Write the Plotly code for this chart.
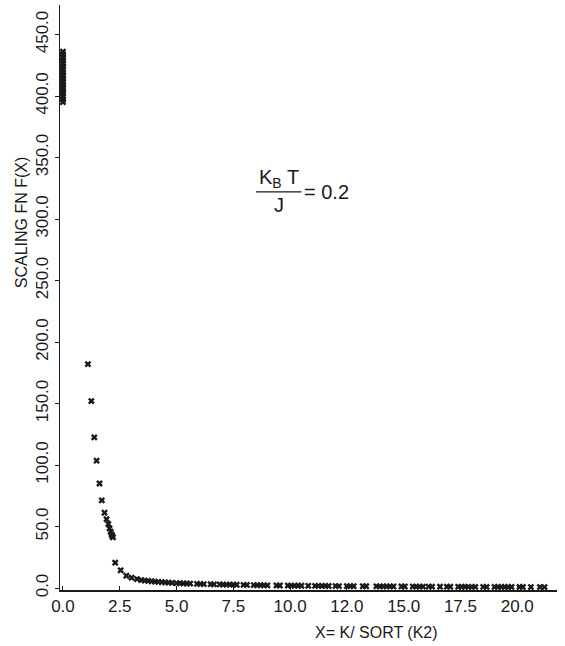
import plotly.graph_objects as go

# --- data ---
x_cluster = [0.0] * 25
y_cluster = [436, 434, 432, 431, 429, 427, 426, 424, 422, 421, 419, 417, 416,
             414, 412, 411, 409, 407, 406, 404, 402, 400, 399, 397, 395]

x_decay = [1.10, 1.25, 1.38, 1.48, 1.61, 1.71, 1.83, 1.92, 2.00, 2.05, 2.10,
           2.14, 2.17, 2.20, 2.30, 2.54, 2.79, 3.02, 3.26]
y_decay = [182, 152, 122.5, 103.5, 85, 71.3, 61.2, 56, 52, 48.5, 45.8,
           43.7, 42.3, 41.2, 20.6, 14.4, 10.0, 8.4, 7.3]

x_tail = [3.45, 3.6, 3.75, 3.9, 4.05, 4.2, 4.35, 4.5, 4.65, 4.8, 5.0, 5.15, 5.3,
          5.45, 5.6, 5.9, 6.05, 6.2, 6.5, 6.65, 6.9, 7.05, 7.2, 7.35, 7.5, 7.65,
          7.95, 8.1, 8.4, 8.55, 8.7, 8.85, 9.0, 9.4, 9.55, 9.9, 10.05, 10.2,
          10.35, 10.5, 10.8, 11.1, 11.25, 11.4, 11.55, 11.7, 12.0, 12.15, 12.5,
          12.65, 12.8, 13.2, 13.35, 13.8, 13.95, 14.1, 14.25, 14.4, 14.55, 14.9,
          15.05, 15.4, 15.55, 15.7, 15.85, 16.1, 16.25, 16.6, 16.9, 17.05, 17.4,
          17.55, 17.7, 17.85, 18.0, 18.15, 18.5, 18.65, 19.0, 19.15, 19.3, 19.45,
          19.6, 19.75, 20.1, 20.25, 20.6, 21.0, 21.2]
y_tail = [6.5, 6.1, 5.8, 5.5, 5.2, 5.0, 4.8, 4.6, 4.4, 4.2, 4.0, 3.9, 3.8,
          3.7, 3.6, 3.4, 3.3, 3.2, 3.1, 3.0, 2.9, 2.85, 2.8, 2.75, 2.7, 2.65,
          2.55, 2.5, 2.4, 2.35, 2.3, 2.25, 2.2, 2.1, 2.05, 2.0, 1.95, 1.9,
          1.88, 1.85, 1.8, 1.75, 1.72, 1.7, 1.68, 1.65, 1.6, 1.58, 1.55,
          1.52, 1.5, 1.45, 1.43, 1.4, 1.38, 1.36, 1.34, 1.32, 1.3, 1.27,
          1.25, 1.22, 1.2, 1.18, 1.16, 1.14, 1.12, 1.1, 1.07, 1.05, 1.02,
          1.0, 0.99, 0.98, 0.97, 0.96, 0.94, 0.93, 0.9, 0.89, 0.88, 0.87,
          0.86, 0.85, 0.83, 0.82, 0.8, 0.78, 0.77]

x_tickvals = [0, 2.5, 5, 7.5, 10, 12.5, 15, 17.5, 20]
x_ticktext = ["0.0", "2.5", "5.0", "7.5", "10.0", "12.0", "15.0", "17.5", "20.0"]
y_tickvals = [0, 50, 100, 150, 200, 250, 300, 350, 400, 450]
y_ticktext = ["0.0", "50.0", "100.0", "150.0", "200.0", "250.0", "300.0",
              "350.0", "400.0", "450.0"]

xs = x_cluster + x_decay + x_tail
ys = y_cluster + y_decay + y_tail

FONT = "Liberation Sans"
INK = "#1a1a1a"

fig = go.Figure()
fig.add_trace(go.Scatter(
    x=xs, y=ys, mode="markers",
    marker=dict(symbol="x", size=6, color=INK, line=dict(width=0)),
    showlegend=False, hoverinfo="skip",
))

fig.update_layout(
    width=565, height=646,
    margin=dict(l=60, r=8, t=5, b=56, autoexpand=False),
    paper_bgcolor="white", plot_bgcolor="white",
    font=dict(family=FONT, size=17, color=INK),
    xaxis=dict(
        range=[-0.13, 21.75], showgrid=False, zeroline=False, automargin=False,
        showline=True, linecolor=INK, linewidth=1.5,
        tickmode="array", tickvals=x_tickvals, ticktext=x_ticktext,
        ticks="inside", ticklen=4, tickcolor=INK,
        tickfont=dict(family=FONT, size=17, color=INK),
    ),
    yaxis=dict(
        range=[-1.6, 474], showgrid=False, zeroline=False, automargin=False,
        showline=True, linecolor=INK, linewidth=1.5,
        tickmode="array", tickvals=y_tickvals, ticktext=y_ticktext,
        ticks="outside", ticklen=4, tickcolor=INK, tickangle=-90,
        tickfont=dict(family=FONT, size=17, color=INK),
    ),
    annotations=[
        dict(text="SCALING FN F(X)", xref="paper", yref="paper",
             x=-0.078, y=0.629, xanchor="center", yanchor="middle",
             textangle=-90, showarrow=False,
             font=dict(family=FONT, size=16, color=INK)),
        dict(text="X= K/ SORT (K2)", xref="paper", yref="paper",
             x=0.636, y=-0.072, xanchor="center", yanchor="middle",
             showarrow=False,
             font=dict(family=FONT, size=16, color=INK)),
        dict(text="K<sub>B</sub> T", xref="x", yref="y", x=9.5, y=333,
             showarrow=False, font=dict(family=FONT, size=20, color=INK)),
        dict(text="J", xref="x", yref="y", x=9.5, y=311,
             showarrow=False, font=dict(family=FONT, size=20, color=INK)),
        dict(text="= 0.2", xref="x", yref="y", x=11.6, y=322,
             showarrow=False, font=dict(family=FONT, size=20, color=INK)),
    ],
    shapes=[
        dict(type="line", xref="x", yref="y", x0=8.5, x1=10.5, y0=322, y1=322,
             line=dict(color=INK, width=1.2)),
    ],
)

fig.write_html("out.html",
               config={"displayModeBar": False, "staticPlot": True},
               post_script="document.body.style.margin='0';document.body.style.padding='0';")
